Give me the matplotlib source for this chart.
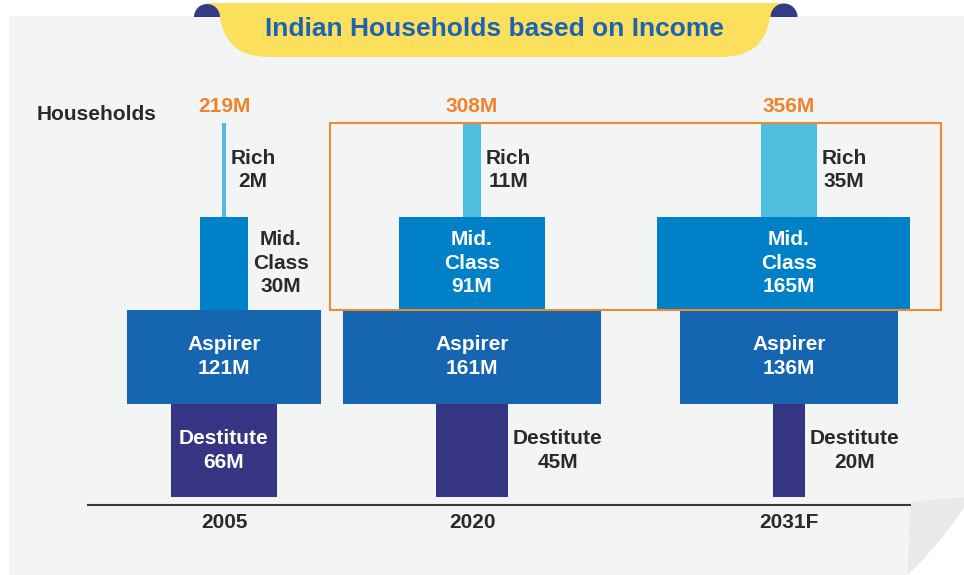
import numpy as np
import matplotlib.pyplot as plt
from matplotlib.patches import Rectangle, Wedge, PathPatch
from matplotlib.path import Path

plt.rcParams['font.family'] = ['Liberation Sans', 'DejaVu Sans']
plt.rcParams['font.weight'] = 'bold'

# data (million households)
years = ['2005', '2020', '2031F']
totals = [219, 308, 356]
level_names = ['Destitute', 'Aspirer', 'Mid.\nClass', 'Rich']
destitute = [66, 45, 20]
aspirer = [121, 161, 136]
mid_class = [30, 91, 165]
rich = [2, 11, 35]

# centre of each stack on the x axis (same units as the values)
year_pos = [85, 240, 438]

level_colors = ['#363583', '#1565B0', '#0080C6', '#4FBEDE']
dark = '#2a2a2a'
orange = '#F0822A'

fig = plt.figure(figsize=(9.64, 5.75), dpi=100)
fig.patch.set_facecolor('white')

# background / decoration layer in pixel coords
bg = fig.add_axes([0, 0, 1, 1])
bg.set_xlim(0, 964)
bg.set_ylim(575, 0)
bg.axis('off')

# grey panel with a curled corner bottom right
M, L, C4 = Path.MOVETO, Path.LINETO, Path.CURVE4
panel = Path([(9, 16), (964, 16), (964, 498), (910, 502), (906, 575),
              (9, 575), (9, 16)],
             [M, L, L, L, L, L, L])
bg.add_patch(PathPatch(panel, facecolor='#F3F4F4', edgecolor='none'))
flap = Path([(910, 502), (964, 497), (964, 508),
             (945, 535), (928, 556), (907, 575), (910, 502)],
            [M, L, L, C4, C4, C4, L])
bg.add_patch(PathPatch(flap, facecolor='#E9EAEA', edgecolor='none'))

# title ribbon
banner = Path([(207, 3), (783, 3), (770, 18),
               (765, 45), (750, 57), (720, 57),
               (270, 57),
               (240, 57), (225, 45), (220, 18), (207, 3)],
              [M, L, L, C4, C4, C4, L, C4, C4, C4, L])
bg.add_patch(PathPatch(banner, facecolor='#FDDF5E', edgecolor='none'))
bg.add_patch(Wedge((207, 17), 13, 180, 360, facecolor='#353A86', edgecolor='none'))
bg.add_patch(Wedge((784, 17), 13.5, 180, 360, facecolor='#353A86', edgecolor='none'))
bg.text(494, 29, 'Indian Households based on Income', ha='center', va='center',
        fontsize=19, color='#1C64AF', fontweight='bold')

bg.text(37, 114, 'Households', ha='left', va='center', fontsize=15, color=dark)

# main chart
ax = fig.add_axes([88 / 964, 70 / 575, 822 / 964, 382 / 575])
ax.set_facecolor('none')
ax.set_xlim(0, 822 / 1.6)
ax.set_ylim(-8 / 93.5, 4)

series = [destitute, aspirer, mid_class, rich]
for lvl, vals in enumerate(series):
    ax.bar(year_pos, 1, width=vals, bottom=lvl, color=level_colors[lvl],
           align='center', edgecolor='none')
    for x, v in zip(year_pos, vals):
        label = f'{level_names[lvl]}\n{v}M'
        if v > 50:
            ax.text(x, lvl + 0.5, label, ha='center', va='center',
                    multialignment='center', fontsize=15, color='white',
                    linespacing=1.3)
        else:
            ax.annotate(label, (x + v / 2, lvl + 0.5), xytext=(3.5, 0),
                        textcoords='offset points', ha='left', va='center',
                        multialignment='center', fontsize=15, color=dark,
                        linespacing=1.3)

for x, t in zip(year_pos, totals):
    ax.annotate(f'{t}M', (x, 4), xytext=(0, 12), textcoords='offset points',
                ha='center', va='center', fontsize=15, color=orange,
                annotation_clip=False)

# highlight box around the upper segments of 2020 and 2031F
ax.add_patch(Rectangle((151.5, 2.0), 533.0 - 151.5, 2.0, fill=False,
                       edgecolor='#F08A2E', lw=1.5, clip_on=False, zorder=5))

for s in ['top', 'right', 'left']:
    ax.spines[s].set_visible(False)
ax.spines['bottom'].set_color('#3a3a3a')
ax.spines['bottom'].set_linewidth(1.5)
ax.set_yticks([])
ax.set_xticks(year_pos, years)
ax.tick_params(axis='x', length=0, pad=6, labelsize=15, labelcolor=dark)
for t in ax.get_xticklabels():
    t.set_fontweight('bold')

fig.savefig('out.png', dpi=100)
